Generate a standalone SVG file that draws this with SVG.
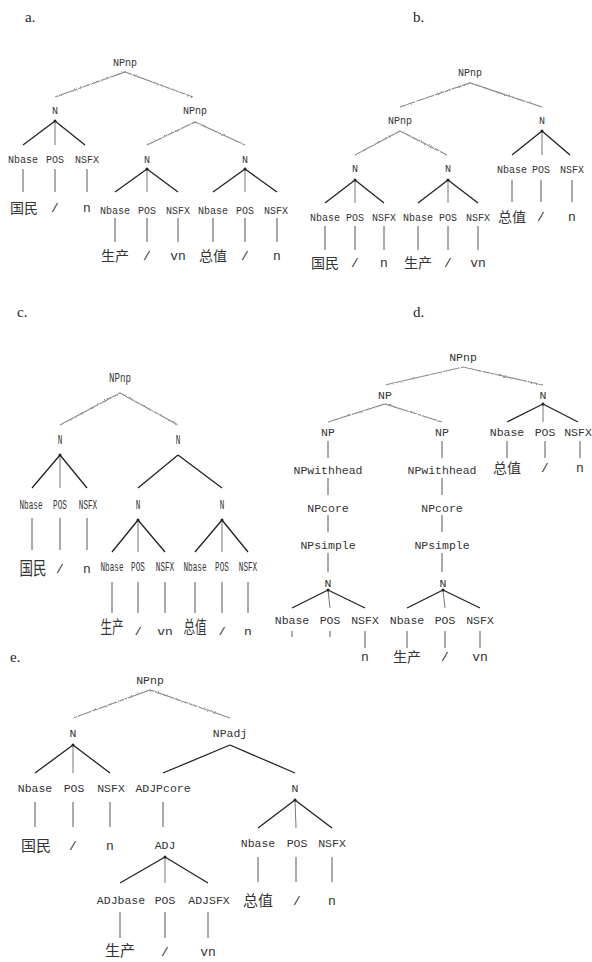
<svg xmlns="http://www.w3.org/2000/svg" width="592" height="962" viewBox="0 0 592 962">
<defs>
<style>
.cap{font-family:"Liberation Serif",serif;font-size:15px;fill:#1c1c30}
.l{font-family:"Liberation Mono",monospace;font-size:10px;fill:#333;text-anchor:middle}
.L{font-family:"Liberation Mono",monospace;font-size:11.5px;fill:#333;text-anchor:middle}
.c{font-family:"Liberation Mono",monospace;font-size:12px;fill:#333;text-anchor:middle}
.z{font-family:"Noto Sans CJK SC",sans-serif;font-size:14px;fill:#333;text-anchor:middle}
.zc{font-family:"Noto Sans CJK SC",sans-serif;font-size:18px;fill:#333;text-anchor:middle}
.ze{font-family:"Noto Sans CJK SC",sans-serif;font-size:15px;fill:#333;text-anchor:middle}
.t{font-family:"Liberation Mono",monospace;font-size:13px;fill:#333;text-anchor:middle}
.s{stroke:#222;stroke-width:1.3;fill:none}
.m{stroke:#666;stroke-width:0.9;fill:none}
.v{stroke:#555;stroke-width:1;fill:none}
.w{stroke:#8c8c8c;stroke-width:1.2;fill:none;filter:url(#wob)}
.dot{fill:#222}
</style>
<filter id="wob" x="-10%" y="-60%" width="120%" height="220%">
<feTurbulence type="fractalNoise" baseFrequency="0.7" numOctaves="1" seed="4"/>
<feDisplacementMap in="SourceGraphic" scale="2.6" xChannelSelector="R" yChannelSelector="G"/>
</filter>
<clipPath id="clipC"><rect x="0" y="600" width="300" height="35"/></clipPath>
</defs>
<rect width="592" height="962" fill="#fff"/>

<g id="connectors">
<path class="w" d="M55,97 L125,72 L193,97"/>
<path class="w" d="M147,145 L195,122 L245,145"/>
<path class="s" d="M55,121 L23,145 M55,121 L85,145"/><path class="m" d="M55,121 L55,145"/>
<path class="v" d="M23,169 V192 M55,169 V192 M87,169 V192"/>
<path class="s" d="M147,169 L115,192 M147,169 L178,192"/><path class="m" d="M147,169 L147,192"/>
<path class="s" d="M245,169 L213,192 M245,169 L277,192"/><path class="m" d="M245,169 L245,192"/>
<path class="v" d="M115,218 V242 M147,218 V242 M178,218 V242 M213,218 V242 M245,218 V242 M277,218 V242"/>
<circle class="dot" cx="55" cy="121" r="1.5"/><circle class="dot" cx="147" cy="169" r="1.5"/><circle class="dot" cx="245" cy="169" r="1.5"/>
<path class="w" d="M400,107 L470,83 L542,107"/>
<path class="w" d="M355,155 L400,131 L447,155"/>
<path class="s" d="M542,131 L512,155 M542,131 L570,155"/><path class="m" d="M542,131 L542,155"/>
<path class="v" d="M512,180 V202 M541,180 V202 M572,180 V202"/>
<path class="s" d="M355,180 L325,203 M355,180 L384,203"/><path class="m" d="M355,180 L355,203"/>
<path class="s" d="M448,180 L418,203 M448,180 L478,203"/><path class="m" d="M448,180 L448,203"/>
<path class="v" d="M325,226 V250 M355,226 V250 M384,226 V250 M418,226 V250 M448,226 V250 M478,226 V250"/>
<circle class="dot" cx="542" cy="131" r="1.5"/><circle class="dot" cx="355" cy="180" r="1.5"/><circle class="dot" cx="448" cy="180" r="1.5"/>
<path class="w" d="M60,425 L120,393 L178,425"/>
<path class="s" d="M60,455 L32,488 M60,455 L87,488"/><path class="m" d="M60,455 L60,488"/>
<path class="v" d="M32,518 V550 M60,518 V550 M87,518 V550"/>
<path class="s" d="M178,455 L138,488 M178,455 L222,488"/>
<path class="s" d="M138,520 L112,552 M138,520 L165,552"/><path class="m" d="M138,520 L138,552"/>
<path class="s" d="M222,520 L195,552 M222,520 L248,552"/><path class="m" d="M222,520 L222,552"/>
<path class="v" d="M112,582 V613 M138,582 V613 M165,582 V613 M195,582 V613 M222,582 V613 M248,582 V613"/>
<circle class="dot" cx="60" cy="455" r="1.5"/><circle class="dot" cx="138" cy="520" r="1.5"/><circle class="dot" cx="222" cy="520" r="1.5"/>
<path class="w" d="M385,385 L463,367 L543,385"/>
<path class="w" d="M328,422 L385,404 L442,422"/>
<path class="s" d="M543,404 L507,422 M543,404 L578,422"/><path class="m" d="M543,404 L543,422"/>
<path class="v" d="M507,441 V458 M545,441 V458 M580,441 V458"/>
<path class="v" d="M328,441 V458 M328,478 V495 M328,515 V532 M328,553 V572"/>
<path class="v" d="M442,441 V458 M442,478 V495 M442,515 V532 M442,553 V572"/>
<path class="s" d="M328,590 L292,608 M328,590 L365,608"/><path class="m" d="M328,590 L330,608"/>
<path class="s" d="M443,590 L407,608 M443,590 L480,608"/><path class="m" d="M443,590 L445,608"/>
<path class="v" d="M292,631 V637 M330,631 V637 M365,631 V648"/>
<path class="v" d="M407,631 V648 M445,631 V648 M480,631 V648"/>
<circle class="dot" cx="543" cy="404" r="1.5"/><circle class="dot" cx="328" cy="590" r="1.5"/><circle class="dot" cx="443" cy="590" r="1.5"/>
<path class="w" d="M73,718 L150,690 L230,718"/>
<path class="s" d="M73,745 L35,773 M73,745 L110,773"/><path class="m" d="M73,745 L73,773"/>
<path class="s" d="M230,745 L163,773 M230,745 L295,773"/>
<path class="v" d="M35,802 V827 M73,802 V827 M110,802 V827 M163,802 V827"/>
<path class="s" d="M295,800 L258,828 M295,800 L332,828"/><path class="m" d="M295,800 L296,828"/>
<path class="v" d="M258,857 V882 M296,857 V882 M332,857 V882"/>
<path class="s" d="M165,857 L120,883 M165,857 L208,883"/><path class="m" d="M165,857 L165,883"/>
<path class="v" d="M120,912 V938 M165,912 V938 M208,912 V938"/>
<circle class="dot" cx="73" cy="745" r="1.5"/><circle class="dot" cx="295" cy="800" r="1.5"/><circle class="dot" cx="165" cy="857" r="1.5"/>
</g>

<g id="cap-a"><text class="cap" x="25" y="22">a.</text></g>
<g id="a-root"><text class="l" x="125" y="65.5">NPnp</text></g>
<g id="a-n1"><text class="l" x="55" y="113.5">N</text></g>
<g id="a-npnp"><text class="l" x="195" y="113.5">NPnp</text></g>
<g id="a-n1-nbase"><text class="l" x="23" y="162.5">Nbase</text></g>
<g id="a-n1-pos"><text class="l" x="55" y="162.5">POS</text></g>
<g id="a-n1-nsfx"><text class="l" x="87" y="162.5">NSFX</text></g>
<g id="a-n2"><text class="l" x="147" y="162.5">N</text></g>
<g id="a-n3"><text class="l" x="245" y="162.5">N</text></g>
<g id="a-w1"><text class="z" x="24" y="213">国民</text></g>
<g id="a-w2"><text class="t" x="55" y="212">/</text></g>
<g id="a-w3"><text class="t" x="87" y="212">n</text></g>
<g id="a-n2-nbase"><text class="l" x="115" y="213.5">Nbase</text></g>
<g id="a-n2-pos"><text class="l" x="147" y="213.5">POS</text></g>
<g id="a-n2-nsfx"><text class="l" x="178" y="213.5">NSFX</text></g>
<g id="a-n3-nbase"><text class="l" x="213" y="213.5">Nbase</text></g>
<g id="a-n3-pos"><text class="l" x="245" y="213.5">POS</text></g>
<g id="a-n3-nsfx"><text class="l" x="276" y="213.5">NSFX</text></g>
<g id="a-w4"><text class="z" x="115" y="261">生产</text></g>
<g id="a-w5"><text class="t" x="147" y="260">/</text></g>
<g id="a-w6"><text class="t" x="178" y="260">vn</text></g>
<g id="a-w7"><text class="z" x="213" y="261">总值</text></g>
<g id="a-w8"><text class="t" x="245" y="260">/</text></g>
<g id="a-w9"><text class="t" x="277" y="260">n</text></g>

<g id="cap-b"><text class="cap" x="413" y="22">b.</text></g>
<g id="b-root"><text class="l" x="470" y="75.5">NPnp</text></g>
<g id="b-npnp"><text class="l" x="400" y="123.5">NPnp</text></g>
<g id="b-n3"><text class="l" x="542" y="123.5">N</text></g>
<g id="b-n1"><text class="l" x="355" y="171.5">N</text></g>
<g id="b-n2"><text class="l" x="448" y="171.5">N</text></g>
<g id="b-n3-nbase"><text class="l" x="512" y="172.5">Nbase</text></g>
<g id="b-n3-pos"><text class="l" x="541" y="172.5">POS</text></g>
<g id="b-n3-nsfx"><text class="l" x="572" y="172.5">NSFX</text></g>
<g id="b-w7"><text class="z" x="512" y="222">总值</text></g>
<g id="b-w8"><text class="t" x="541" y="221">/</text></g>
<g id="b-w9"><text class="t" x="572" y="221">n</text></g>
<g id="b-n1-nbase"><text class="l" x="325" y="220.5">Nbase</text></g>
<g id="b-n1-pos"><text class="l" x="355" y="220.5">POS</text></g>
<g id="b-n1-nsfx"><text class="l" x="384" y="220.5">NSFX</text></g>
<g id="b-n2-nbase"><text class="l" x="418" y="220.5">Nbase</text></g>
<g id="b-n2-pos"><text class="l" x="448" y="220.5">POS</text></g>
<g id="b-n2-nsfx"><text class="l" x="478" y="220.5">NSFX</text></g>
<g id="b-w1"><text class="z" x="325" y="268">国民</text></g>
<g id="b-w2"><text class="t" x="355" y="267">/</text></g>
<g id="b-w3"><text class="t" x="384" y="267">n</text></g>
<g id="b-w4"><text class="z" x="418" y="268">生产</text></g>
<g id="b-w5"><text class="t" x="448" y="267">/</text></g>
<g id="b-w6"><text class="t" x="478" y="267">vn</text></g>

<g id="cap-c"><text class="cap" x="17" y="317">c.</text></g>
<g id="c-root"><text class="c" transform="translate(120,382) scale(0.76,1)">NPnp</text></g>
<g id="c-n1"><text class="c" transform="translate(60,444) scale(0.64,1)">N</text></g>
<g id="c-n"><text class="c" transform="translate(178,444) scale(0.64,1)">N</text></g>
<g id="c-n1-nbase"><text class="c" transform="translate(31,509) scale(0.64,1)">Nbase</text></g>
<g id="c-n1-pos"><text class="c" transform="translate(60,509) scale(0.64,1)">POS</text></g>
<g id="c-n1-nsfx"><text class="c" transform="translate(88,509) scale(0.64,1)">NSFX</text></g>
<g id="c-n2"><text class="c" transform="translate(138,509) scale(0.64,1)">N</text></g>
<g id="c-n3"><text class="c" transform="translate(222,509) scale(0.64,1)">N</text></g>
<g id="c-w1"><text class="zc" transform="translate(33,575) scale(0.75,1)">国民</text></g>
<g id="c-w2"><text class="t" x="60" y="573">/</text></g>
<g id="c-w3"><text class="t" x="87" y="573">n</text></g>
<g id="c-n2-nbase"><text class="c" transform="translate(112,571) scale(0.64,1)">Nbase</text></g>
<g id="c-n2-pos"><text class="c" transform="translate(138,571) scale(0.64,1)">POS</text></g>
<g id="c-n2-nsfx"><text class="c" transform="translate(165,571) scale(0.64,1)">NSFX</text></g>
<g id="c-n3-nbase"><text class="c" transform="translate(195,571) scale(0.64,1)">Nbase</text></g>
<g id="c-n3-pos"><text class="c" transform="translate(222,571) scale(0.64,1)">POS</text></g>
<g id="c-n3-nsfx"><text class="c" transform="translate(248,571) scale(0.64,1)">NSFX</text></g>
<g clip-path="url(#clipC)">
<g id="c-w4"><text class="zc" transform="translate(112,634) scale(0.64,1)">生产</text></g>
<g id="c-w5"><text class="t" x="138" y="636">/</text></g>
<g id="c-w6"><text class="t" x="165" y="636">vn</text></g>
<g id="c-w7"><text class="zc" transform="translate(195,634) scale(0.64,1)">总值</text></g>
<g id="c-w8"><text class="t" x="222" y="636">/</text></g>
<g id="c-w9"><text class="t" x="248" y="636">n</text></g>
</g>

<g id="cap-d"><text class="cap" x="413" y="317">d.</text></g>
<g id="d-root"><text class="L" x="463" y="361">NPnp</text></g>
<g id="d-np"><text class="L" x="385" y="399">NP</text></g>
<g id="d-n3"><text class="L" x="543" y="399">N</text></g>
<g id="d-np1"><text class="L" x="328" y="436">NP</text></g>
<g id="d-np2"><text class="L" x="442" y="436">NP</text></g>
<g id="d-n3-nbase"><text class="L" x="507" y="436">Nbase</text></g>
<g id="d-n3-pos"><text class="L" x="545" y="436">POS</text></g>
<g id="d-n3-nsfx"><text class="L" x="578" y="436">NSFX</text></g>
<g id="d-w7"><text class="z" x="507" y="473">总值</text></g>
<g id="d-w8"><text class="t" x="545" y="472">/</text></g>
<g id="d-w9"><text class="t" x="580" y="472">n</text></g>
<g id="d-wh1"><text class="L" x="328" y="474">NPwithhead</text></g>
<g id="d-wh2"><text class="L" x="442" y="474">NPwithhead</text></g>
<g id="d-core1"><text class="L" x="328" y="512">NPcore</text></g>
<g id="d-core2"><text class="L" x="442" y="512">NPcore</text></g>
<g id="d-simple1"><text class="L" x="328" y="549">NPsimple</text></g>
<g id="d-simple2"><text class="L" x="442" y="549">NPsimple</text></g>
<g id="d-n1"><text class="L" x="328" y="587">N</text></g>
<g id="d-n2"><text class="L" x="443" y="587">N</text></g>
<g id="d-n1-nbase"><text class="L" x="292" y="624">Nbase</text></g>
<g id="d-n1-pos"><text class="L" x="330" y="624">POS</text></g>
<g id="d-n1-nsfx"><text class="L" x="365" y="624">NSFX</text></g>
<g id="d-n2-nbase"><text class="L" x="407" y="624">Nbase</text></g>
<g id="d-n2-pos"><text class="L" x="445" y="624">POS</text></g>
<g id="d-n2-nsfx"><text class="L" x="480" y="624">NSFX</text></g>
<g id="d-w3"><text class="t" x="365" y="661">n</text></g>
<g id="d-w4"><text class="z" x="407" y="662">生产</text></g>
<g id="d-w5"><text class="t" x="445" y="661">/</text></g>
<g id="d-w6"><text class="t" x="480" y="661">vn</text></g>

<g id="cap-e"><text class="cap" x="10" y="662">e.</text></g>
<g id="e-root"><text class="L" x="150" y="684">NPnp</text></g>
<g id="e-n1"><text class="L" x="73" y="737">N</text></g>
<g id="e-npadj"><text class="L" x="230" y="737">NPadj</text></g>
<g id="e-n1-nbase"><text class="L" x="35" y="792">Nbase</text></g>
<g id="e-n1-pos"><text class="L" x="74" y="792">POS</text></g>
<g id="e-n1-nsfx"><text class="L" x="111" y="792">NSFX</text></g>
<g id="e-adjpcore"><text class="L" x="163" y="792">ADJPcore</text></g>
<g id="e-n2"><text class="L" x="295" y="792">N</text></g>
<g id="e-w1"><text class="ze" x="36" y="851">国民</text></g>
<g id="e-w2"><text class="t" x="73" y="850">/</text></g>
<g id="e-w3"><text class="t" x="110" y="850">n</text></g>
<g id="e-adj"><text class="L" x="165" y="849">ADJ</text></g>
<g id="e-n2-nbase"><text class="L" x="258" y="847">Nbase</text></g>
<g id="e-n2-pos"><text class="L" x="297" y="847">POS</text></g>
<g id="e-n2-nsfx"><text class="L" x="332" y="847">NSFX</text></g>
<g id="e-w7"><text class="ze" x="258" y="906">总值</text></g>
<g id="e-w8"><text class="t" x="297" y="905">/</text></g>
<g id="e-w9"><text class="t" x="332" y="905">n</text></g>
<g id="e-adjbase"><text class="L" x="121" y="904">ADJbase</text></g>
<g id="e-pos"><text class="L" x="165" y="904">POS</text></g>
<g id="e-adjsfx"><text class="L" x="209" y="904">ADJSFX</text></g>
<g id="e-w4"><text class="ze" x="120" y="956">生产</text></g>
<g id="e-w5"><text class="t" x="165" y="956">/</text></g>
<g id="e-w6"><text class="t" x="208" y="956">vn</text></g>
</svg>
